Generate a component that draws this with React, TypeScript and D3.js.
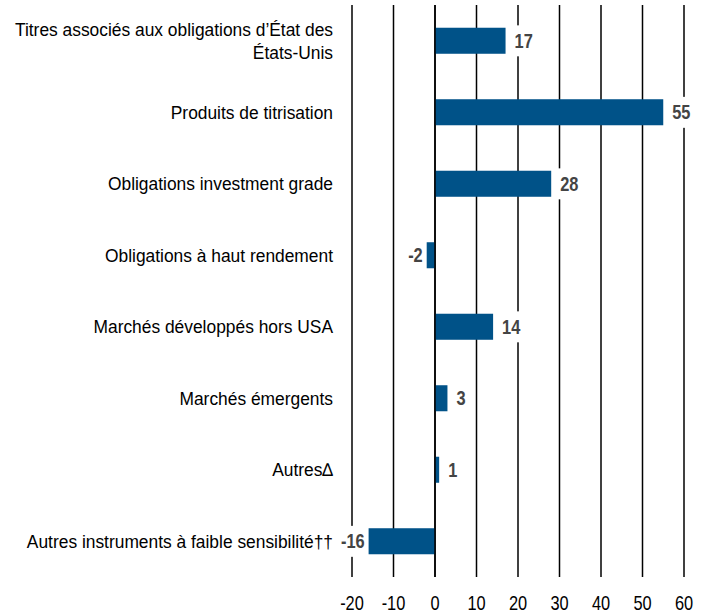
import * as d3 from "d3";
import React, { useEffect, useRef } from "react";

// categories, top to bottom (each entry = lines of the label)
const categories = [
  ["Titres associés aux obligations d\u2019État des", "États-Unis"],
  ["Produits de titrisation"],
  ["Obligations investment grade"],
  ["Obligations à haut rendement"],
  ["Marchés développés hors USA"],
  ["Marchés émergents"],
  ["Autres\u2206"],
  ["Autres instruments à faible sensibilité\u2020\u2020"],
];
const values = [17, 55, 28, -2, 14, 3, 1, -16];
const ticks = [-20, -10, 0, 10, 20, 30, 40, 50, 60];

const W = 713;
const H = 616;
const font = "'Liberation Sans', Arial, sans-serif";
const narrow = 0.82; // squeeze to look like Arial Narrow

export default function App() {
  const ref = useRef<SVGSVGElement>(null);

  useEffect(() => {
    document.body.style.margin = "0";
    const svg = d3.select(ref.current);
    svg.selectAll("*").remove();

    const x = d3.scaleLinear().domain([-20, 60]).range([352, 684]);
    const y = d3.scaleBand<number>()
      .domain(d3.range(categories.length))
      .range([5, 577])
      .paddingInner(0.636)
      .paddingOuter(0.318);
    const cy = (i: number) => y(i)! + y.bandwidth() / 2;

    // vertical grid lines
    svg.append("g")
      .selectAll("line")
      .data(ticks)
      .join("line")
      .attr("x1", d => x(d)).attr("x2", d => x(d))
      .attr("y1", 5).attr("y2", 577)
      .attr("stroke", "#000")
      .attr("stroke-width", 1.5);

    // tick labels
    svg.append("g")
      .selectAll("text")
      .data(ticks)
      .join("text")
      .attr("transform", d => `translate(${x(d)},610) scale(${narrow},1)`)
      .attr("text-anchor", "middle")
      .attr("font-family", font)
      .attr("font-size", 20)
      .attr("fill", "#000")
      .text(d => d);

    // bars
    svg.append("g")
      .selectAll("rect")
      .data(values)
      .join("rect")
      .attr("x", d => x(Math.min(0, d)))
      .attr("y", (d, i) => y(i)!)
      .attr("width", d => Math.abs(x(d) - x(0)))
      .attr("height", y.bandwidth())
      .attr("fill", "#005288");

    // zero line on top
    svg.append("line")
      .attr("x1", x(0)).attr("x2", x(0))
      .attr("y1", 5).attr("y2", 577)
      .attr("stroke", "#000")
      .attr("stroke-width", 1.5);

    // value labels with white box behind
    const labels = svg.append("g")
      .selectAll("g")
      .data(values)
      .join("g")
      .attr("transform", (d, i) =>
        `translate(${d >= 0 ? x(d) + 9 : x(d) - 4},${cy(i)}) scale(${narrow},1)`);

    labels.append("text")
      .attr("text-anchor", d => (d >= 0 ? "start" : "end"))
      .attr("dy", "0.36em")
      .attr("font-family", font)
      .attr("font-size", 20)
      .attr("font-weight", "bold")
      .attr("fill", "#444")
      .text(d => d);

    labels.each(function () {
      const g = d3.select(this);
      const bb = (g.select("text").node() as SVGTextElement).getBBox();
      g.insert("rect", "text")
        .attr("x", bb.x - 4)
        .attr("y", bb.y - 4)
        .attr("width", bb.width + 8)
        .attr("height", bb.height + 8)
        .attr("fill", "#fff");
    });

    // category labels
    const cat = svg.append("g")
      .selectAll("text")
      .data(categories)
      .join("text")
      .attr("transform", (d, i) =>
        `translate(333,${cy(i) - (d.length - 1) * 11.5}) scale(0.94,1)`)
      .attr("text-anchor", "end")
      .attr("font-family", font)
      .attr("font-size", 18.5)
      .attr("fill", "#000");

    cat.selectAll("tspan")
      .data(d => d)
      .join("tspan")
      .attr("x", 0)
      .attr("dy", (d, i) => (i === 0 ? "0.36em" : "23"))
      .text(d => d);
  }, []);

  return <svg ref={ref} width={W} height={H} style={{ display: "block" }} />;
}
